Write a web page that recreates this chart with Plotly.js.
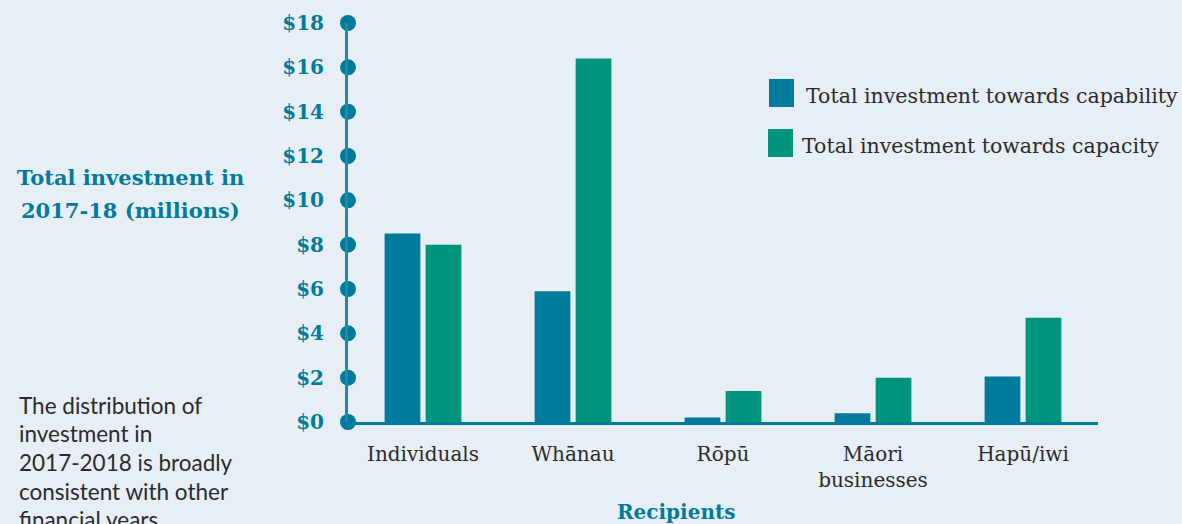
<!DOCTYPE html>
<html>
<head>
<meta charset="utf-8">
<script src="https://cdn.plot.ly/plotly-3.0.1.min.js"></script>
<style>
html,body{margin:0;padding:0;background:#e7eef5;}
#chart{width:1182px;height:524px;}
</style>
</head>
<body>
<div id="chart"></div>
<script>
// Data
const categories = ["Individuals", "Whānau", "Rōpū", "Māori<br>businesses", "Hapū/iwi"];
const capability = [8.5, 5.9, 0.2, 0.4, 2.05];
const capacity = [8.0, 16.4, 1.4, 2.0, 4.7];
const seriesNames = ["Total investment towards capability", "Total investment towards capacity"];
const tickValues = [0, 2, 4, 6, 8, 10, 12, 14, 16, 18];
const tickLabels = ["$0", "$2", "$4", "$6", "$8", "$10", "$12", "$14", "$16", "$18"];
const yTitleLines = ["Total investment in", "2017-18 (millions)"];
const xTitle = "Recipients";
const noteLines = ["The distribution of", "investment in", "2017-2018 is broadly", "consistent with other", "financial years."];

const TEAL = "#007b9b";
const GREEN = "#00937d";
const BG = "#e7eef5";
const serif = "DejaVu Serif, serif";

const traces = [
  {type: "bar", x: categories, y: capability, name: seriesNames[0], marker: {color: TEAL}, showlegend: false},
  {type: "bar", x: categories, y: capacity, name: seriesNames[1], marker: {color: GREEN}, showlegend: false},
  {type: "scatter", mode: "markers", xaxis: "x2", yaxis: "y", x: tickValues.map(() => 0), y: tickValues,
   marker: {size: 16, color: TEAL}, cliponaxis: false, showlegend: false, hoverinfo: "skip"}
];

const annotations = [];
yTitleLines.forEach((t, i) => annotations.push({
  xref: "paper", yref: "paper", x: (130 - 348) / 750, y: 1 - (177 - 23 + i * 33) / 399,
  xanchor: "center", yanchor: "middle", showarrow: false, text: t,
  font: {family: serif, size: 21, color: TEAL, weight: "bold"}
}));
annotations.push({
  xref: "paper", yref: "paper", x: (676 - 348) / 750, y: 1 - (512 - 23) / 399,
  xanchor: "center", yanchor: "middle", showarrow: false, text: xTitle,
  font: {family: serif, size: 20, color: TEAL, weight: "bold"}
});
noteLines.forEach((t, i) => annotations.push({
  xref: "paper", yref: "paper", x: (17 - 348) / 750, y: 1 - (405 + i * 28.7 - 23) / 399,
  xanchor: "left", yanchor: "middle", showarrow: false, text: t,
  font: {family: "Lato, sans-serif", size: 22.5, color: "#2b2b2b"}
}));

// legend (manual, large swatches)
const legendRows = [{y: 93, sx: 769, tx: 804}, {y: 143, sx: 768, tx: 800}];
const colors = [TEAL, GREEN];
const shapes = [];
legendRows.forEach((r, i) => {
  shapes.push({type: "rect", xref: "paper", yref: "paper",
    x0: (r.sx - 348) / 750, x1: (r.sx + 25 - 348) / 750,
    y0: 1 - (r.y - 14 - 23) / 399, y1: 1 - (r.y + 14 - 23) / 399,
    fillcolor: colors[i], line: {width: 0}});
  annotations.push({xref: "paper", yref: "paper", x: (r.tx - 348) / 750, y: 1 - (r.y + 3 - 23) / 399,
    xanchor: "left", yanchor: "middle", showarrow: false, text: seriesNames[i],
    font: {family: serif, size: 20.5, color: "#2b2b2b"}});
});

const layout = {
  width: 1182, height: 524,
  paper_bgcolor: BG, plot_bgcolor: BG,
  margin: {l: 348, r: 84, t: 23, b: 102, pad: 0},
  barmode: "group", bargap: 0.453, bargroupgap: 0.129,
  showlegend: false,
  xaxis: {
    type: "category", range: [-0.5, 4.5], showgrid: false, zeroline: false,
    showline: true, linecolor: TEAL, linewidth: 3, ticks: "", ticklabelstandoff: 12,
    tickfont: {family: serif, size: 20, color: "#2b2b2b"}
  },
  xaxis2: {overlaying: "x", range: [0, 1], visible: false, fixedrange: true},
  yaxis: {
    range: [0, 18], showgrid: false, zeroline: false,
    showline: true, linecolor: "#2687a3", linewidth: 3,
    tickvals: tickValues, ticktext: tickLabels, ticks: "", ticklabelstandoff: 17,
    tickfont: {family: serif, size: 20, color: TEAL, weight: "bold"}
  },
  annotations: annotations,
  shapes: shapes
};

Plotly.newPlot("chart", traces, layout, {displayModeBar: false, staticPlot: true});
</script>
</body>
</html>
